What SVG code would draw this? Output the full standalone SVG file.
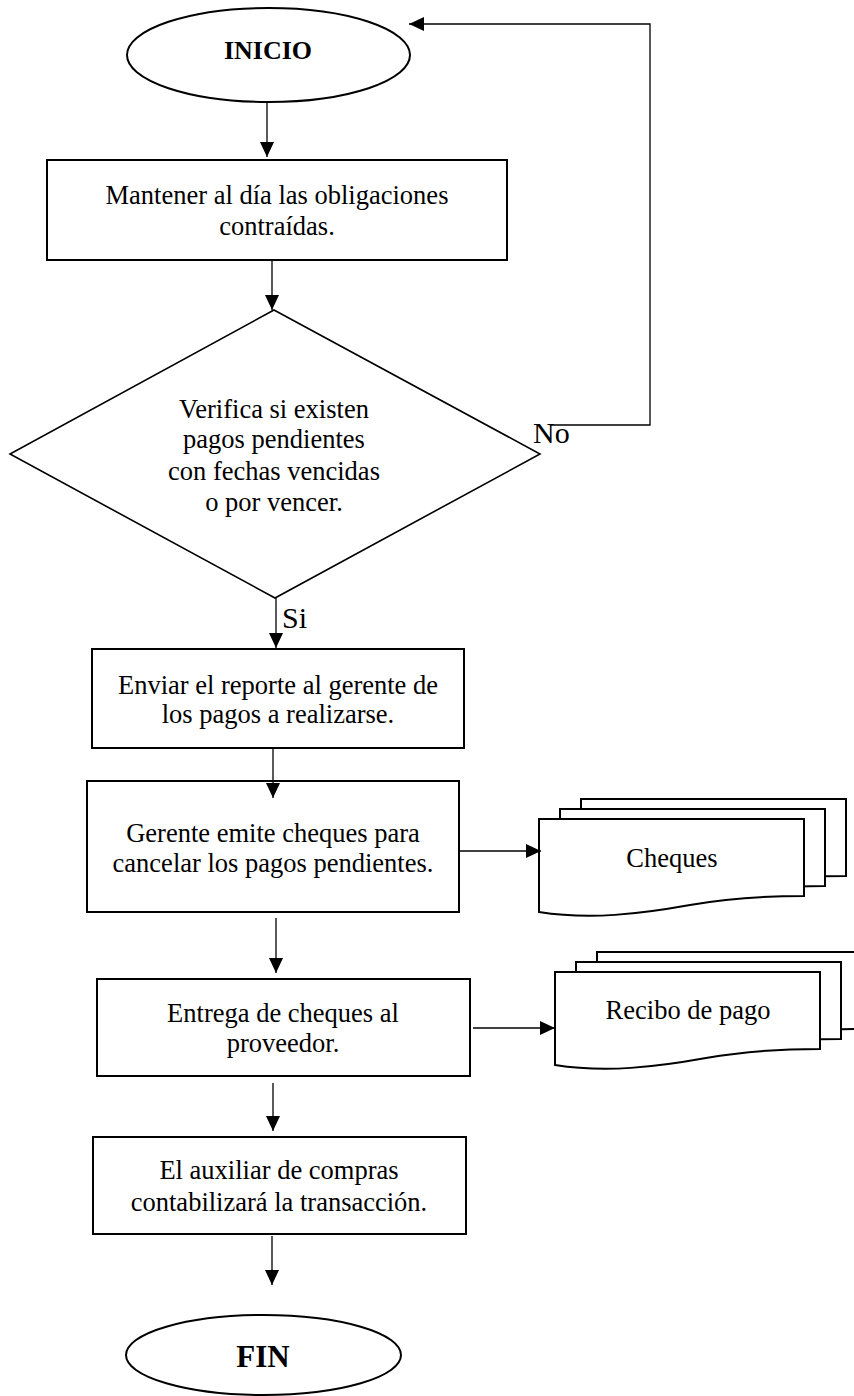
<svg xmlns="http://www.w3.org/2000/svg" width="854" height="1396" viewBox="0 0 854 1396">
<defs>
<style>
.box{fill:#fff;stroke:#000;stroke-width:2}
.term{fill:#fff;stroke:#000;stroke-width:2}
.dia{fill:#fff;stroke:#000;stroke-width:1.6}
.doc{fill:#fff;stroke:#000;stroke-width:2}
.con{fill:none;stroke:#000;stroke-width:1.3}
.t{font-family:"Liberation Serif","Times New Roman",serif;font-size:26.5px;fill:#000;text-anchor:middle}
.tb{font-family:"Liberation Serif","Times New Roman",serif;font-weight:bold;fill:#000;text-anchor:middle}
.lbl{font-family:"Liberation Serif","Times New Roman",serif;font-size:30px;fill:#000}
</style>
<marker id="arr" markerUnits="userSpaceOnUse" markerWidth="15" markerHeight="14" refX="15" refY="7" orient="auto">
<path d="M0,0 L15,7 L0,14 z" fill="#000"/>
</marker>
<path id="docshape" d="M0 0 H265 V77 C231 77 191 79 151 86 C101 95 51 101 0 93 Z"/>
</defs>

<g id="inicio">
<ellipse class="term" cx="268.5" cy="55" rx="141.5" ry="47"/>
<text class="tb" x="268" y="59" font-size="26">INICIO</text>
</g>

<g id="box1">
<rect class="box" x="47" y="160" width="460" height="100"/>
<text class="t" x="277" y="204">Mantener al día las obligaciones</text>
<text class="t" x="277" y="235">contraídas.</text>
</g>

<g id="decision">
<polygon class="dia" points="274,310 540,454 275,598 10,454"/>
<text class="t" x="274" y="418">Verifica si existen</text>
<text class="t" x="274" y="448">pagos pendientes</text>
<text class="t" x="274" y="480">con fechas vencidas</text>
<text class="t" x="274" y="511">o por vencer.</text>
</g>

<g id="box2">
<rect class="box" x="92" y="649" width="372" height="99"/>
<text class="t" x="278" y="694">Enviar el reporte al gerente de</text>
<text class="t" x="278" y="723">los pagos a realizarse.</text>
</g>

<g id="box3">
<rect class="box" x="87" y="781" width="372" height="131"/>
<text class="t" x="273" y="842">Gerente emite cheques para</text>
<text class="t" x="273" y="872">cancelar los pagos pendientes.</text>
</g>

<g id="cheques">
<use href="#docshape" class="doc" transform="translate(581,799)"/>
<use href="#docshape" class="doc" transform="translate(560,809)"/>
<use href="#docshape" class="doc" transform="translate(539,819)"/>
<text class="t" x="672" y="867">Cheques</text>
</g>

<g id="box4">
<rect class="box" x="97" y="979" width="373" height="97"/>
<text class="t" x="283" y="1022">Entrega de cheques al</text>
<text class="t" x="283" y="1052">proveedor.</text>
</g>

<g id="recibo">
<use href="#docshape" class="doc" transform="translate(597,952)"/>
<use href="#docshape" class="doc" transform="translate(576,962)"/>
<use href="#docshape" class="doc" transform="translate(555,972)"/>
<text class="t" x="688" y="1019">Recibo de pago</text>
</g>

<g id="box5">
<rect class="box" x="93" y="1137" width="373" height="97"/>
<text class="t" x="279" y="1179">El auxiliar de compras</text>
<text class="t" x="279" y="1211">contabilizará la transacción.</text>
</g>

<g id="fin">
<ellipse class="term" cx="263.5" cy="1355" rx="137.5" ry="40"/>
<text class="tb" x="263" y="1367" font-size="31">FIN</text>
</g>

<g id="connectors">
<line class="con" x1="267" y1="103" x2="267" y2="157" marker-end="url(#arr)"/>
<line class="con" x1="272" y1="260" x2="272" y2="310" marker-end="url(#arr)"/>
<line class="con" x1="276" y1="598" x2="276" y2="648" marker-end="url(#arr)"/>
<line class="con" x1="273" y1="748" x2="273" y2="798" marker-end="url(#arr)"/>
<line class="con" x1="459" y1="851" x2="541" y2="851" marker-end="url(#arr)"/>
<line class="con" x1="276" y1="918" x2="276" y2="973" marker-end="url(#arr)"/>
<line class="con" x1="473" y1="1028" x2="555" y2="1028" marker-end="url(#arr)"/>
<line class="con" x1="273" y1="1083" x2="273" y2="1131" marker-end="url(#arr)"/>
<line class="con" x1="272" y1="1236" x2="272" y2="1285" marker-end="url(#arr)"/>
<polyline class="con" points="550,425 650,425 650,24 409,24" marker-end="url(#arr)"/>
<text class="lbl" x="533" y="443">No</text>
<text class="lbl" x="282" y="628">Si</text>
</g>
</svg>
